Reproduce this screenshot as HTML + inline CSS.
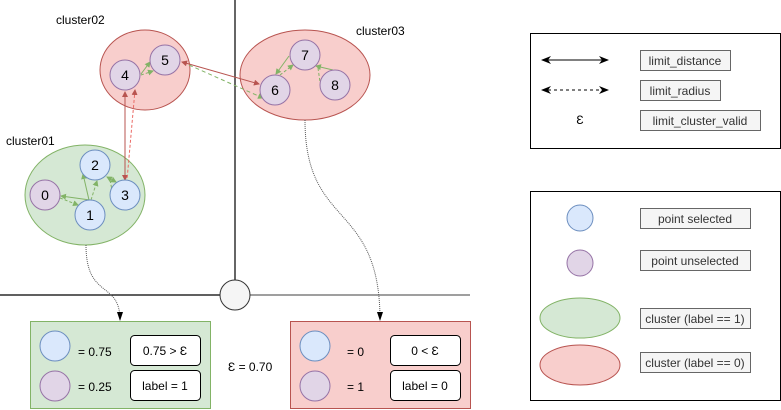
<!DOCTYPE html>
<html><head><style>body{margin:0;background:#fff}svg{display:block;font-family:"Liberation Sans",sans-serif}</style></head><body>
<svg width="781" height="410" viewBox="0 0 781 410" xmlns="http://www.w3.org/2000/svg">
<defs>
<marker id="ag" markerWidth="6" markerHeight="6" refX="5" refY="3" orient="auto-start-reverse"><path d="M0,0L6,3L0,6z" fill="#82b366"/></marker>
<marker id="ar" markerWidth="6" markerHeight="6" refX="5" refY="3" orient="auto-start-reverse"><path d="M0,0L6,3L0,6z" fill="#b85450"/></marker>
<marker id="ak" markerWidth="10" markerHeight="8" refX="9" refY="4" orient="auto-start-reverse"><path d="M0,0L10,4L0,8L3,4z" fill="#000"/></marker>
</defs>
<line x1="235" y1="0" x2="235" y2="295" stroke="#000" stroke-width="1.2"/>
<line x1="0" y1="295" x2="220" y2="295" stroke="#000" stroke-width="1.2"/>
<line x1="250" y1="295" x2="470" y2="295" stroke="#666" stroke-width="1.2"/>
<circle cx="235" cy="295" r="15" fill="#f5f5f5" stroke="#333"/>
<g font-size="12" fill="#000">
<text x="56" y="24">cluster02</text><text x="356" y="35">cluster03</text><text x="6" y="145">cluster01</text>
</g>
<ellipse cx="145" cy="70" rx="45" ry="40" fill="#f8cecc" stroke="#b85450"/>
<ellipse cx="305" cy="75" rx="65" ry="45" fill="#f8cecc" stroke="#b85450"/>
<ellipse cx="85" cy="195" rx="60" ry="50" fill="#d5e8d4" stroke="#82b366"/>
<path d="M86,245 C86,300 120,280 120,320" fill="none" stroke="#555" stroke-dasharray="1,1"/>
<path d="M120,312 L117,312 L120,321 L123,312z" fill="#000"/>
<path d="M305,120 C305,230 380,200 380,320" fill="none" stroke="#555" stroke-dasharray="1,1"/>
<path d="M377,312 L380,321 L383,312z" fill="#000"/>
<!-- edges -->
<g stroke-width="1" fill="none">
<line x1="61" y1="196" x2="90" y2="200" stroke="#82b366" marker-start="url(#ag)"/>
<line x1="60" y1="198" x2="78" y2="205" stroke="#82b366" stroke-dasharray="3,2" marker-end="url(#ag)"/>
<line x1="89" y1="200" x2="83" y2="174" stroke="#82b366" marker-end="url(#ag)"/>
<line x1="91" y1="200" x2="97" y2="181" stroke="#82b366" stroke-dasharray="3,2" marker-end="url(#ag)"/>
<line x1="107" y1="177" x2="116" y2="182" stroke="#82b366" marker-start="url(#ag)" marker-end="url(#ag)"/>
<line x1="110" y1="180" x2="112" y2="190" stroke="#82b366" stroke-dasharray="3,2"/>
<line x1="125" y1="92" x2="125" y2="180" stroke="#b85450" marker-start="url(#ar)" marker-end="url(#ar)"/>
<line x1="135" y1="90" x2="127" y2="180" stroke="#ea6b66" stroke-dasharray="3,2" marker-start="url(#ar)"/>
<line x1="141" y1="74" x2="150" y2="62" stroke="#82b366" marker-end="url(#ag)"/>
<line x1="141" y1="75" x2="153" y2="71" stroke="#82b366" stroke-dasharray="3,2" marker-end="url(#ag)"/>
<line x1="182" y1="62" x2="259" y2="84" stroke="#b85450" marker-start="url(#ar)" marker-end="url(#ar)"/>
<line x1="189" y1="65" x2="263" y2="98" stroke="#82b366" stroke-dasharray="4,3" marker-end="url(#ag)"/>
<line x1="276" y1="74" x2="289" y2="56" stroke="#82b366" marker-start="url(#ag)"/>
<line x1="280" y1="75" x2="293" y2="65" stroke="#82b366" stroke-dasharray="3,2" marker-end="url(#ag)"/>
<line x1="316" y1="66" x2="333" y2="70" stroke="#82b366" marker-start="url(#ag)"/>
<line x1="318" y1="68" x2="320" y2="82" stroke="#82b366" stroke-dasharray="3,2"/>
</g>
<g font-size="14" text-anchor="middle">
<circle cx="45" cy="195" r="15" fill="#e1d5e7" stroke="#9673a6"/><text x="45" y="200">0</text>
<circle cx="90" cy="215" r="15" fill="#dae8fc" stroke="#6c8ebf"/><text x="90" y="220">1</text>
<circle cx="95" cy="165" r="15" fill="#dae8fc" stroke="#6c8ebf"/><text x="95" y="170">2</text>
<circle cx="125" cy="195" r="15" fill="#dae8fc" stroke="#6c8ebf"/><text x="125" y="200">3</text>
<circle cx="125" cy="75" r="15" fill="#e1d5e7" stroke="#9673a6"/><text x="125" y="80">4</text>
<circle cx="165" cy="60" r="15" fill="#e1d5e7" stroke="#9673a6"/><text x="165" y="65">5</text>
<circle cx="275" cy="90" r="15" fill="#e1d5e7" stroke="#9673a6"/><text x="275" y="95">6</text>
<circle cx="305" cy="55" r="15" fill="#e1d5e7" stroke="#9673a6"/><text x="305" y="60">7</text>
<circle cx="335" cy="85" r="15" fill="#e1d5e7" stroke="#9673a6"/><text x="335" y="90">8</text>
</g>
<!-- bottom boxes -->
<rect x="30.5" y="321.5" width="180" height="87" fill="#d5e8d4" stroke="#82b366"/>
<rect x="290.5" y="321.5" width="180" height="87" fill="#f8cecc" stroke="#b85450"/>
<g font-size="12">
<circle cx="55" cy="346" r="15" fill="#dae8fc" stroke="#6c8ebf"/>
<circle cx="55" cy="386" r="15" fill="#e1d5e7" stroke="#9673a6"/>
<text x="78" y="356">= 0.75</text><text x="78" y="391">= 0.25</text>
<rect x="130.5" y="335.5" width="70" height="30" rx="4" fill="#fff" stroke="#000"/>
<rect x="130.5" y="370.5" width="70" height="30" rx="4" fill="#fff" stroke="#000"/>
<text x="165" y="355" text-anchor="middle">0.75 &gt; Ɛ</text>
<text x="165" y="390" text-anchor="middle">label = 1</text>
<circle cx="315" cy="346" r="15" fill="#dae8fc" stroke="#6c8ebf"/>
<circle cx="315" cy="386" r="15" fill="#e1d5e7" stroke="#9673a6"/>
<text x="347" y="356">= 0</text><text x="347" y="391">= 1</text>
<rect x="390.5" y="335.5" width="70" height="30" rx="4" fill="#fff" stroke="#000"/>
<rect x="390.5" y="370.5" width="70" height="30" rx="4" fill="#fff" stroke="#000"/>
<text x="425" y="355" text-anchor="middle">0 &lt; Ɛ</text>
<text x="425" y="390" text-anchor="middle">label = 0</text>
<text x="228" y="371">Ɛ = 0.70</text>
</g>
<!-- legend 1 -->
<rect x="530.5" y="33.5" width="250" height="115" fill="#fff" stroke="#000"/>
<line x1="542" y1="60" x2="608" y2="60" stroke="#000" marker-start="url(#ak)" marker-end="url(#ak)"/>
<line x1="542" y1="90" x2="608" y2="90" stroke="#000" stroke-dasharray="3,3" marker-start="url(#ak)" marker-end="url(#ak)"/>
<g font-size="12" fill="#333">
<text x="580" y="124" text-anchor="middle" fill="#000">Ɛ</text>
<rect x="640.5" y="50.5" width="90" height="20" fill="#f5f5f5" stroke="#666"/><text x="685" y="65" text-anchor="middle">limit_distance</text>
<rect x="640.5" y="80.5" width="80" height="20" fill="#f5f5f5" stroke="#666"/><text x="680" y="95" text-anchor="middle">limit_radius</text>
<rect x="640.5" y="110.5" width="120" height="20" fill="#f5f5f5" stroke="#666"/><text x="700" y="125" text-anchor="middle">limit_cluster_valid</text>
</g>
<!-- legend 2 -->
<rect x="530.5" y="191.5" width="250" height="209" fill="#fff" stroke="#000"/>
<circle cx="580" cy="218" r="13" fill="#dae8fc" stroke="#6c8ebf"/>
<circle cx="580" cy="263" r="13" fill="#e1d5e7" stroke="#9673a6"/>
<ellipse cx="580" cy="318" rx="40" ry="20" fill="#d5e8d4" stroke="#82b366"/>
<ellipse cx="580" cy="365" rx="40" ry="20" fill="#f8cecc" stroke="#b85450"/>
<g font-size="12" fill="#333" text-anchor="middle">
<rect x="640.5" y="208.5" width="110" height="20" fill="#f5f5f5" stroke="#666"/><text x="695" y="223">point selected</text>
<rect x="640.5" y="250.5" width="110" height="20" fill="#f5f5f5" stroke="#666"/><text x="695" y="265">point unselected</text>
<rect x="640.5" y="308.5" width="110" height="20" fill="#f5f5f5" stroke="#666"/><text x="695" y="323">cluster (label == 1)</text>
<rect x="640.5" y="352.5" width="110" height="20" fill="#f5f5f5" stroke="#666"/><text x="695" y="367">cluster (label == 0)</text>
</g>
</svg>
</body></html>
